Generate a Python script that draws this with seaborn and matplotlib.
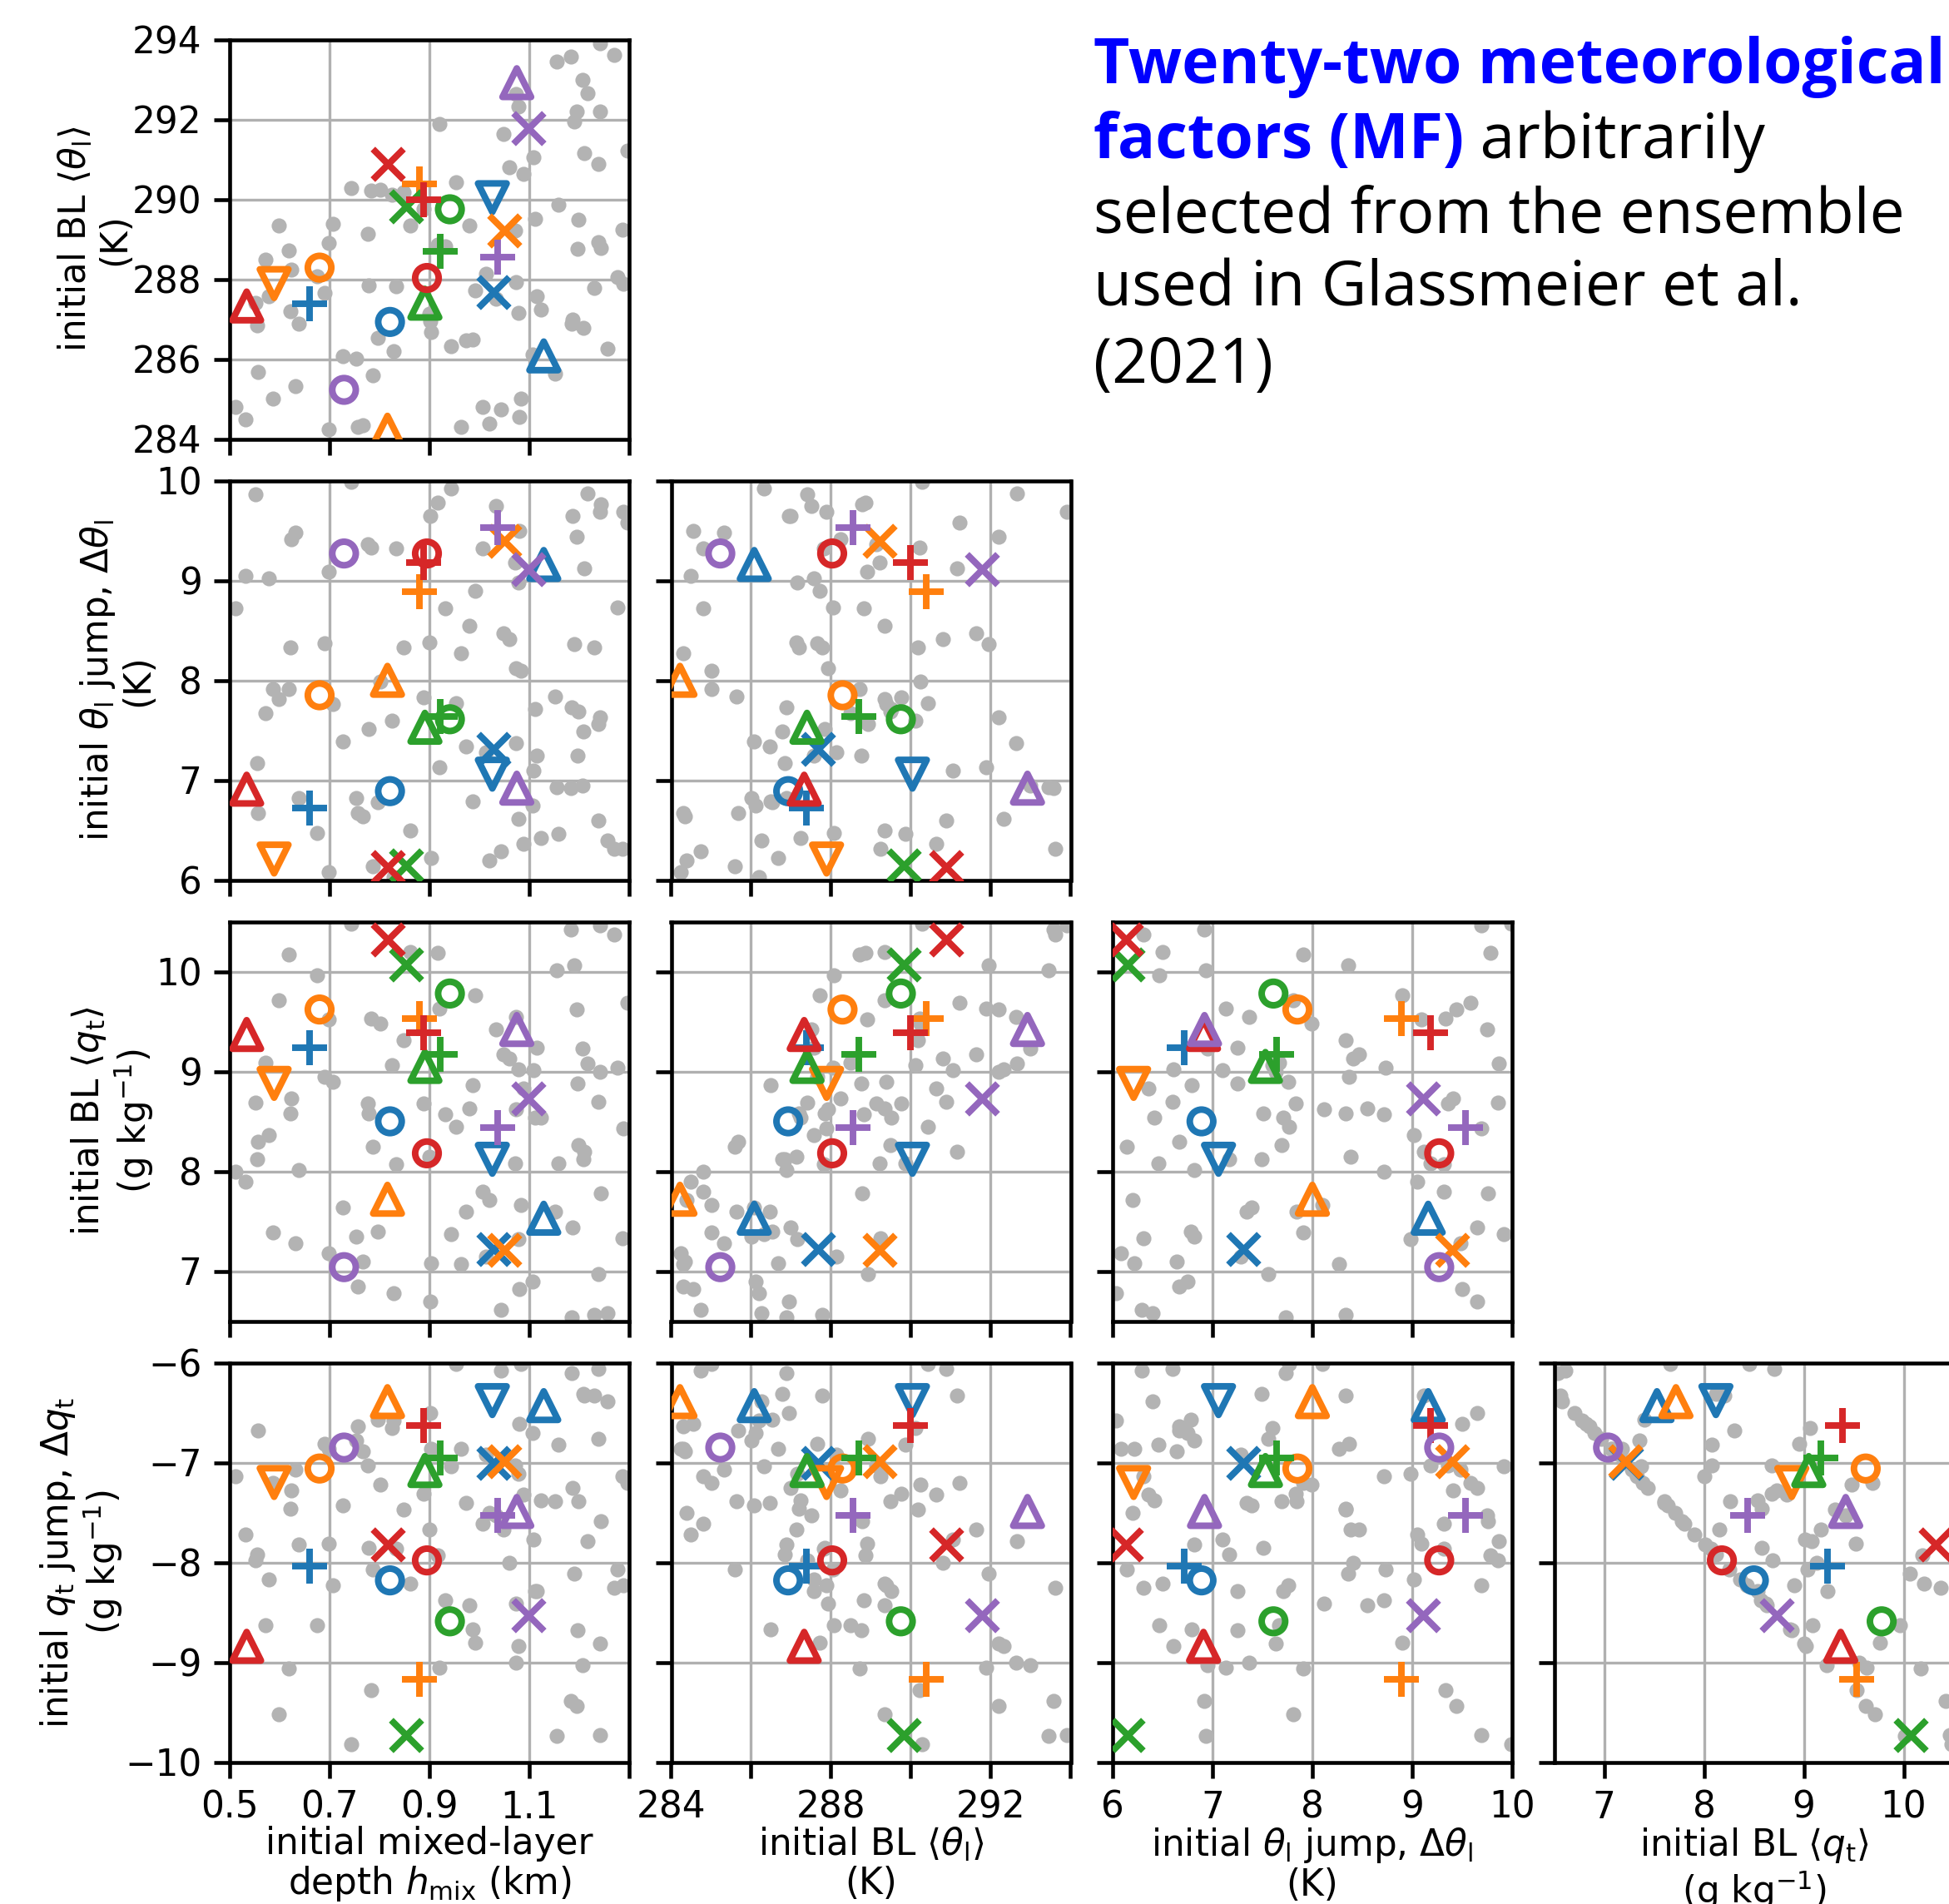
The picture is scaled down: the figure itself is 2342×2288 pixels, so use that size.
import matplotlib
matplotlib.use("Agg")
import matplotlib.pyplot as plt
import numpy as np
import pandas as pd
import seaborn as sns

# ---------------- ensemble (gray dots) ----------------
ens_h = [0.511, 0.532, 0.552, 0.555, 0.557, 0.572, 0.578, 0.586, 0.598, 0.618,
         0.621, 0.624, 0.632, 0.638, 0.675, 0.690, 0.698, 0.699, 0.707, 0.727,
         0.744, 0.753, 0.756, 0.767, 0.776, 0.779, 0.784, 0.787, 0.796, 0.802,
         0.825, 0.828, 0.833, 0.848, 0.862, 0.888, 0.902, 0.903, 0.900, 0.917,
         0.920, 0.931, 0.943, 0.954, 0.963, 0.974, 0.980, 0.986, 0.991, 1.006,
         1.014, 1.020, 1.034, 1.043, 1.049, 1.060, 1.072, 1.073, 1.073, 1.078,
         1.079, 1.080, 1.083, 1.089, 1.106, 1.109, 1.112, 1.115, 1.124, 1.152,
         1.155, 1.158, 1.184, 1.185, 1.187, 1.190, 1.195, 1.196, 1.198, 1.207,
         1.208, 1.210, 1.216, 1.230, 1.238, 1.239, 1.241, 1.242, 1.244, 1.256,
         1.270, 1.276, 1.287, 1.288, 1.296]
ens_theta = [284.80, 284.49, 287.40, 286.85, 285.67, 288.48, 287.58, 285.01, 289.35, 288.72,
             287.19, 288.24, 285.32, 286.88, 288.07, 287.65, 288.90, 284.24, 289.38, 286.08,
             290.28, 286.01, 284.31, 284.35, 289.14, 287.85, 290.22, 285.60, 286.53, 290.25,
             290.11, 286.19, 287.82, 290.18, 289.35, 289.76, 286.95, 286.67, 287.14, 288.86,
             291.88, 288.83, 286.33, 290.42, 284.31, 286.47, 289.35, 286.50, 287.72, 284.80,
             288.13, 284.38, 287.51, 284.73, 291.64, 290.81, 289.21, 287.92, 292.64, 292.33,
             287.16, 284.56, 285.01, 290.63, 286.12, 291.05, 289.52, 287.58, 287.23, 285.63,
             293.44, 289.87, 293.58, 286.88, 287.00, 291.95, 292.19, 288.76, 289.49, 292.99,
             286.78, 291.15, 292.65, 287.78, 290.88, 288.93, 293.90, 292.19, 288.79, 286.26,
             293.62, 288.06, 289.24, 287.89, 291.22]
ens_dtheta = [8.72, 9.05, 9.86, 7.17, 6.67, 7.67, 9.02, 7.91, 7.81, 7.91,
              8.33, 9.41, 9.48, 6.82, 6.47, 8.37, 9.09, 6.08, 7.76, 7.39,
              9.99, 6.82, 6.67, 6.64, 9.36, 7.51, 9.33, 6.14, 6.78, 7.99,
              7.60, 6.03, 9.32, 8.33, 6.50, 7.83, 9.65, 6.22, 8.38, 9.78,
              7.13, 8.72, 9.92, 7.77, 8.27, 7.34, 8.55, 6.79, 8.90, 9.32,
              7.28, 6.20, 9.75, 6.29, 8.47, 8.41, 9.18, 8.12, 7.37, 6.61,
              8.98, 9.50, 8.10, 6.36, 6.75, 7.10, 7.71, 7.25, 6.42, 7.84,
              6.93, 6.46, 6.92, 7.73, 9.65, 8.36, 9.44, 7.25, 7.69, 6.95,
              7.49, 9.12, 9.87, 8.33, 6.60, 7.56, 9.69, 7.63, 9.76, 6.40,
              6.31, 8.73, 6.31, 9.69, 9.58]
ens_qt = [8.00, 7.90, 8.69, 8.12, 8.30, 9.09, 8.36, 7.39, 9.71, 10.17,
          8.58, 8.73, 7.28, 8.01, 9.96, 8.95, 9.52, 7.18, 8.90, 7.64,
          10.48, 7.35, 6.85, 7.10, 8.68, 8.58, 9.53, 8.25, 7.40, 9.48,
          9.06, 6.78, 8.07, 9.31, 10.20, 8.68, 6.70, 7.08, 8.15, 10.19,
          9.63, 8.57, 7.37, 8.45, 7.07, 7.60, 8.63, 8.86, 9.76, 7.80,
          7.15, 7.71, 9.42, 6.61, 9.17, 9.13, 8.08, 8.62, 9.55, 9.02,
          7.32, 6.82, 7.66, 8.83, 6.90, 9.01, 8.54, 9.24, 8.54, 7.60,
          10.01, 8.08, 10.42, 6.54, 7.44, 10.06, 9.62, 8.88, 8.26, 9.23,
          8.12, 8.20, 9.08, 6.56, 8.70, 6.97, 10.46, 9.00, 7.78, 6.58,
          10.37, 9.04, 7.33, 8.43, 9.69]
ens_dqt = [-7.14, -7.72, -7.98, -7.92, -6.68, -8.63, -8.17, -7.20, -9.52, -9.06,
           -7.46, -7.28, -7.07, -7.82, -8.63, -6.81, -7.81, -6.86, -8.23, -7.43,
           -9.82, -6.78, -6.64, -6.89, -7.03, -7.85, -9.28, -8.07, -6.57, -7.22,
           -6.65, -6.58, -7.86, -7.47, -8.21, -7.31, -6.50, -6.86, -7.67, -7.93,
           -9.05, -8.38, -7.04, -6.01, -6.86, -7.40, -8.43, -8.67, -8.80, -7.61,
           -6.92, -7.50, -7.53, -6.08, -7.67, -8.00, -7.03, -8.41, -9.00, -8.84,
           -7.11, -6.61, -6.01, -7.32, -6.70, -7.77, -8.29, -8.29, -7.38, -7.39,
           -9.74, -6.82, -9.39, -6.10, -7.25, -8.11, -9.44, -8.68, -7.39, -9.03,
           -6.31, -6.33, -7.79, -6.33, -6.06, -6.76, -9.73, -8.81, -7.59, -6.39,
           -8.25, -8.07, -7.14, -8.23, -7.20]

# ---------------- 22 meteorological factors ----------------
mf_color = ["C0"] * 5 + ["C1"] * 5 + ["C2"] * 4 + ["C3"] * 4 + ["C4"] * 4
mf_marker = ["o", "x", "+", "^", "v",
             "o", "x", "+", "^", "v",
             "o", "x", "+", "^",
             "o", "x", "+", "^",
             "o", "x", "+", "^"]
mf_h = [0.821, 1.028, 0.660, 1.129, 1.026,
        0.680, 1.050, 0.880, 0.816, 0.589,
        0.941, 0.853, 0.921, 0.891,
        0.895, 0.817, 0.888, 0.534,
        0.729, 1.098, 1.036, 1.075]
mf_theta = [286.93, 287.68, 287.38, 286.08, 290.04,
            288.29, 289.21, 290.39, 284.22, 287.89,
            289.75, 289.83, 288.69, 287.40,
            288.03, 290.88, 290.00, 287.33,
            285.23, 291.78, 288.55, 292.92]
mf_dtheta = [6.89, 7.31, 6.72, 9.16, 7.06,
             7.85, 9.40, 8.89, 8.00, 6.21,
             7.61, 6.15, 7.64, 7.53,
             9.27, 6.13, 9.18, 6.91,
             9.27, 9.11, 9.53, 6.92]
mf_qt = [8.50, 7.22, 9.24, 7.53, 8.12,
         9.62, 7.21, 9.53, 7.72, 8.88,
         9.78, 10.07, 9.17, 9.05,
         8.18, 10.32, 9.39, 9.37,
         7.04, 8.73, 8.44, 9.42]
mf_dqt = [-8.18, -7.00, -8.04, -6.43, -6.38,
          -7.06, -6.99, -9.17, -6.39, -7.20,
          -8.59, -9.73, -6.95, -7.08,
          -7.98, -7.82, -6.63, -8.84,
          -6.85, -8.53, -7.53, -7.49]

# ---------------- axis setup ----------------
var_names = ["h", "theta", "dtheta", "qt", "dqt"]
var_labels = {
    "h": "initial mixed-layer\ndepth $h_\\mathrm{mix}$ (km)",
    "theta": "initial BL $\\langle\\theta_\\mathrm{l}\\rangle$\n(K)",
    "dtheta": "initial $\\theta_\\mathrm{l}$ jump, $\\Delta\\theta_\\mathrm{l}$\n(K)",
    "qt": "initial BL $\\langle q_\\mathrm{t}\\rangle$\n(g kg$^{-1}$)",
    "dqt": "initial $q_\\mathrm{t}$ jump, $\\Delta q_\\mathrm{t}$\n(g kg$^{-1}$)",
}
var_lims = {"h": (0.5, 1.3), "theta": (284, 294), "dtheta": (6, 10),
            "qt": (6.5, 10.5), "dqt": (-10, -6)}
var_ticks = {"h": [0.5, 0.7, 0.9, 1.1, 1.3], "theta": [284, 286, 288, 290, 292, 294],
             "dtheta": [6, 7, 8, 9, 10], "qt": [7, 8, 9, 10], "dqt": [-10, -9, -8, -7, -6]}
xtick_labels = {"h": ["0.5", "0.7", "0.9", "1.1", ""],
                "theta": ["284", "", "288", "", "292", ""],
                "dtheta": ["6", "7", "8", "9", "10"],
                "qt": ["7", "8", "9", "10"]}
ytick_labels = {"theta": ["284", "286", "288", "290", "292", "294"],
                "dtheta": ["6", "7", "8", "9", "10"],
                "qt": ["7", "8", "9", "10"],
                "dqt": ["\u221210", "\u22129", "\u22128", "\u22127", "\u22126"]}

ens = pd.DataFrame({"h": ens_h, "theta": ens_theta, "dtheta": ens_dtheta,
                    "qt": ens_qt, "dqt": ens_dqt})
mf = pd.DataFrame({"h": mf_h, "theta": mf_theta, "dtheta": mf_dtheta,
                   "qt": mf_qt, "dqt": mf_dqt, "color": mf_color, "marker": mf_marker})

sns.set_style("ticks")
plt.rcParams.update({
    "font.family": ["DejaVu Sans"],
    "font.size": 10.5,
    "text.color": "black",
    "axes.labelcolor": "black",
    "axes.edgecolor": "black",
    "axes.linewidth": 1.1,
    "xtick.color": "black",
    "ytick.color": "black",
    "xtick.labelsize": 10.5,
    "ytick.labelsize": 10.5,
    "axes.labelsize": 10.5,
    "xtick.major.size": 4.5,
    "ytick.major.size": 4.5,
    "xtick.major.width": 1.1,
    "ytick.major.width": 1.1,
    "xtick.direction": "out",
    "ytick.direction": "out",
})

W, H = 2342, 2288
DPI = 300
fig = plt.figure(figsize=(W / DPI, H / DPI), dpi=DPI)

marker_size = {"o": 46, "x": 78, "+": 105, "^": 68, "v": 68}
filled = {"o": True, "^": True, "v": True, "x": False, "+": False}
LW = 1.9

for r in range(4):
    yv = var_names[r + 1]
    for c in range(r + 1):
        xv = var_names[c]
        left = (276 + 530.5 * c) / W
        top_px = 47.5 + 530 * r
        bottom = 1 - (top_px + 480) / H
        ax = fig.add_axes([left, bottom, 480 / W, 480 / H])
        ax.set_axisbelow(True)
        ax.grid(True, color="#b0b0b0", linewidth=0.8)

        sns.scatterplot(data=ens, x=xv, y=yv, ax=ax, color="0.7", s=19,
                        linewidth=0, legend=False, zorder=2)
        for i in range(len(mf)):
            m = mf["marker"][i]
            col = mf["color"][i]
            if filled[m]:
                sns.scatterplot(x=[mf[xv][i]], y=[mf[yv][i]], ax=ax, marker=m,
                                s=marker_size[m], color=col, facecolor="none",
                                edgecolor=col, linewidth=LW, legend=False, zorder=3)
            else:
                sns.scatterplot(x=[mf[xv][i]], y=[mf[yv][i]], ax=ax, marker=m,
                                s=marker_size[m], color=col, linewidth=LW,
                                legend=False, zorder=3)

        ax.set_xlim(*var_lims[xv])
        ax.set_ylim(*var_lims[yv])
        ax.set_xticks(var_ticks[xv])
        ax.set_yticks(var_ticks[yv])
        if r == 3:
            ax.set_xticklabels(xtick_labels[xv])
            ax.set_xlabel(var_labels[xv], labelpad=0, linespacing=1.1)
        else:
            ax.set_xticklabels([])
            ax.set_xlabel("")
        if c == 0:
            ax.set_yticklabels(ytick_labels[yv])
            ax.set_ylabel(var_labels[yv], labelpad=0, linespacing=1.1)
        else:
            ax.set_yticklabels([])
            ax.set_ylabel("")
        for s in ["top", "right", "left", "bottom"]:
            ax.spines[s].set_visible(True)
            ax.spines[s].set_linewidth(1.1)
            ax.spines[s].set_color("black")

# ---------------- descriptive text ----------------
tx = 1314 / W
base = [100, 190, 280, 368, 460]
tfont = ["Open Sans", "DejaVu Sans"]
TS = 18
t1 = fig.text(tx, 1 - base[0] / H, "Twenty-two meteorological", color="blue",
              fontweight="bold", fontsize=TS, family=tfont, va="baseline")
t2a = fig.text(tx, 1 - base[1] / H, "factors (MF)", color="blue",
               fontweight="bold", fontsize=TS, family=tfont, va="baseline")
fig.canvas.draw()
bb = t2a.get_window_extent(renderer=fig.canvas.get_renderer())
fig.text(bb.x1 / fig.bbox.width, 1 - base[1] / H, " arbitrarily", color="black",
         fontsize=TS, family=tfont, va="baseline")
fig.text(tx, 1 - base[2] / H, "selected from the ensemble", color="black",
         fontsize=TS, family=tfont, va="baseline")
fig.text(tx, 1 - base[3] / H, "used in Glassmeier et al.", color="black",
         fontsize=TS, family=tfont, va="baseline")
fig.text(tx, 1 - base[4] / H, "(2021)", color="black",
         fontsize=TS, family=tfont, va="baseline")

fig.savefig("out.png", dpi=DPI)
